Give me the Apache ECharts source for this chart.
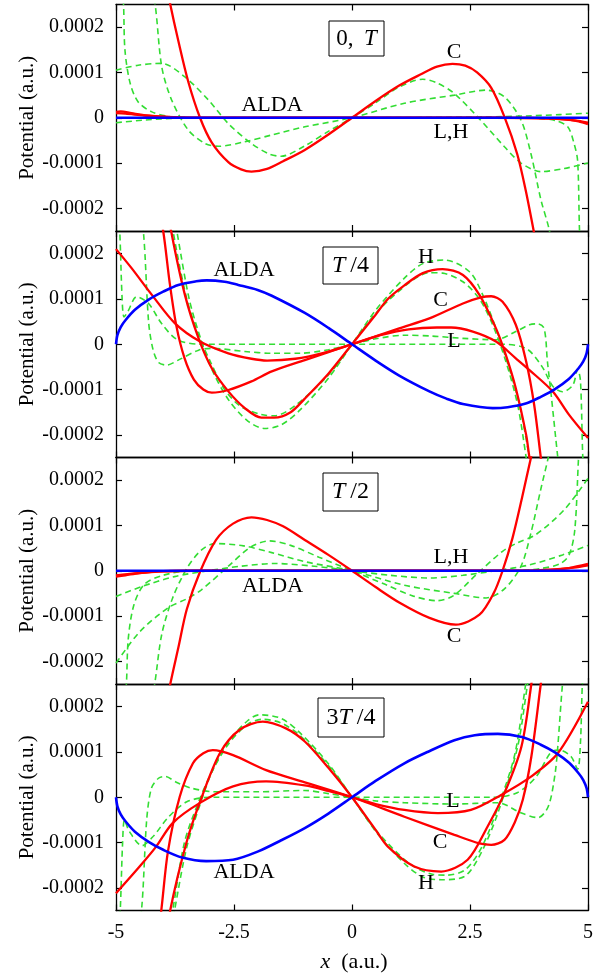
<!DOCTYPE html>
<html>
<head>
<meta charset="utf-8">
<script src="https://cdn.jsdelivr.net/npm/echarts@6/dist/echarts.min.js"></script>
<style>
html,body{margin:0;padding:0;background:#fff;}
#chart{width:610px;height:979px;}
</style>
</head>
<body>
<div id="chart"></div>
<script>
// ---- axes ----
const xTicks = [-5, -2.5, 0, 2.5, 5];
const yTicks = [-2, -1, 0, 1, 2];          // potential in units of 1e-4 a.u.
const yUnit = 1e-4;
const panelLabels = ['0,T', 'T/4', 'T/2', '3T/4'];

// ---- panel 1 : t = 0, T  (values in 1e-4 a.u.) ----
const p1_ALDA = [[-5,0],[5,0]];
const p1_C = [[-4.0,3.3],[-3.85,2.5],[-3.68,1.7],[-3.47,0.8],[-3.22,0],[-2.97,-0.55],[-2.62,-0.98],[-2.35,-1.14],[-2.13,-1.19],[-1.8,-1.13],[-1.46,-0.96],[-1.0,-0.71],[-0.5,-0.37],[0,0],[0.5,0.37],[1.0,0.71],[1.46,0.96],[1.8,1.13],[2.13,1.19],[2.4,1.15],[2.65,1.0],[2.95,0.66],[3.23,0.02],[3.5,-0.8],[3.68,-1.6],[3.85,-2.5],[4.0,-3.3]];
const p1_L = [[-5,0.13],[-4.9,0.14],[-4.67,0.1],[-4.24,0.04],[-3.6,0.005],[-3,0],[3,0],[3.8,-0.005],[4.3,-0.02],[4.6,-0.04],[4.8,-0.08],[5,-0.14]];
const p1_H = [[-5,0.1],[-4.8,0.09],[-4.4,0.05],[-3.8,0.01],[-3,0],[3,0],[3.9,-0.01],[4.4,-0.03],[4.8,-0.07],[5,-0.11]];
const p1_G1 = [[-5,1.05],[-4.53,1.16],[-4.03,1.2],[-3.54,0.9],[-3.04,0.39],[-2.62,-0.13],[-2.13,-0.57],[-1.75,-0.8],[-1.5,-0.85],[-1.0,-0.62],[-0.5,-0.3],[0,0],[0.5,0.33],[1.0,0.68],[1.5,0.85],[1.8,0.77],[2.16,0.54],[2.66,0.02],[3.23,-0.64],[3.58,-1.0],[4.0,-1.19],[4.5,-1.12],[5,-1.0]];
const p1_G2 = [[-4.35,3.5],[-4.17,2.49],[-4.03,1.12],[-3.82,0.39],[-3.47,-0.27],[-3.11,-0.57],[-2.83,-0.63],[-2.27,-0.53],[-1.7,-0.38],[-1.0,-0.2],[0,0],[1.11,0.32],[2.17,0.5],[2.84,0.61],[3.23,0.46],[3.58,-0.05],[3.79,-0.79],[4.0,-1.8],[4.18,-2.48],[4.35,-3.5]];
const p1_G3 = [[-4.9,3.5],[-4.84,2.49],[-4.81,1.49],[-4.7,0.76],[-4.53,0.35],[-4.24,0.13],[-3.82,0.02],[-3.2,0],[3.2,0],[3.9,-0.01],[4.3,-0.06],[4.57,-0.2],[4.7,-0.55],[4.78,-0.95],[4.82,-2.48],[4.87,-3.5]];
const p1_G4 = [[-5,-0.11],[-4.38,-0.05],[-3.68,-0.01],[-2.8,0],[0,0],[2.8,0.02],[3.7,0.04],[4.4,0.07],[5,0.1]];

// ---- panel 2 : t = T/4 ----
const p2_ALDA = [[-5,0],[-4.97,0.2],[-4.9,0.38],[-4.8,0.53],[-4.6,0.76],[-4.3,0.99],[-4.0,1.16],[-3.68,1.31],[-3.3,1.39],[-3.08,1.41],[-2.7,1.38],[-2.41,1.31],[-2.0,1.2],[-1.7,1.07],[-1.0,0.69],[-0.5,0.36],[0,0],[0.5,-0.36],[1.0,-0.69],[1.64,-1.04],[2.0,-1.2],[2.35,-1.32],[2.98,-1.41],[3.3,-1.39],[3.68,-1.31],[4.0,-1.16],[4.3,-0.99],[4.6,-0.76],[4.8,-0.53],[4.9,-0.38],[4.97,-0.2],[5,0]];
const p2_C = [[-4.15,3.3],[-4.0,2.5],[-3.86,1.34],[-3.72,0.4],[-3.55,-0.3],[-3.35,-0.78],[-3.15,-1.0],[-2.97,-1.07],[-2.62,-1.01],[-2.13,-0.82],[-1.7,-0.6],[-1.0,-0.35],[0,0],[1.0,0.35],[1.64,0.57],[2.35,0.9],[2.75,1.04],[2.95,1.06],[3.19,0.94],[3.47,0.43],[3.69,-0.38],[3.86,-1.34],[4.0,-2.5],[4.1,-3.3]];
const p2_L = [[-5,2.1],[-4.67,1.68],[-4.24,1.09],[-3.75,0.46],[-3.22,0.06],[-2.62,-0.2],[-2.13,-0.32],[-1.8,-0.36],[-1.2,-0.32],[-0.6,-0.19],[0,0],[0.6,0.2],[1.2,0.33],[1.8,0.37],[2.1,0.37],[2.56,0.28],[3.05,0.06],[3.47,-0.31],[3.76,-0.57],[4.25,-1.04],[4.6,-1.56],[5,-2.07]];
const p2_H = [[-3.95,3.3],[-3.83,2.49],[-3.54,1.09],[-3.25,0.13],[-2.97,-0.53],[-2.62,-1.04],[-2.27,-1.41],[-1.92,-1.62],[-1.65,-1.62],[-1.3,-1.5],[-1.0,-1.2],[-0.5,-0.65],[0,0],[0.5,0.65],[0.76,1.0],[1.11,1.3],[1.5,1.57],[1.92,1.66],[2.35,1.53],[2.7,1.09],[3.05,0.35],[3.26,-0.24],[3.47,-0.97],[3.69,-2.0],[3.76,-2.5],[3.9,-3.3]];
const p2_G1 = [[-3.85,3.3],[-3.71,2.49],[-3.45,1.0],[-3.2,0.1],[-2.95,-0.6],[-2.6,-1.25],[-2.2,-1.7],[-1.85,-1.86],[-1.5,-1.78],[-1.1,-1.45],[-0.5,-0.75],[0,0],[0.5,0.75],[1.1,1.45],[1.5,1.78],[1.96,1.86],[2.49,1.6],[2.77,1.09],[3.05,0.35],[3.33,-0.53],[3.55,-1.34],[3.76,-2.5],[3.9,-3.3]];
const p2_G2 = [[-3.9,3.3],[-3.79,2.49],[-3.5,1.0],[-3.25,0.2],[-2.98,-0.43],[-2.7,-1.0],[-2.35,-1.38],[-1.92,-1.55],[-1.64,-1.58],[-1.2,-1.35],[-0.5,-0.68],[0,0],[0.5,0.68],[1.2,1.35],[1.64,1.58],[1.92,1.57],[2.35,1.38],[2.7,1.0],[2.98,0.43],[3.26,-0.38],[3.51,-1.34],[3.69,-2.5],[3.8,-3.3]];
const p2_G3 = [[-4.55,3.3],[-4.42,2.49],[-4.31,0.5],[-4.22,-0.1],[-4.1,-0.4],[-3.93,-0.46],[-3.68,-0.35],[-3.25,-0.13],[-2.97,-0.09],[-2.27,-0.16],[-1.7,-0.2],[-1.11,-0.2],[-0.5,-0.12],[0,0],[0.5,0.12],[1.11,0.2],[1.7,0.18],[2.35,0.13],[3.05,0.1],[3.47,0.28],[3.76,0.43],[3.93,0.45],[4.07,0.35],[4.14,-0.38],[4.22,-1.12],[4.36,-2.5],[4.45,-3.3]];
const p2_G4 = [[-4.97,3.3],[-4.92,2.49],[-4.87,1.0],[-4.83,0.6],[-4.75,0.72],[-4.56,1.05],[-4.31,0.9],[-4.03,0.45],[-3.7,0.1],[-3.2,0],[3.2,0],[3.7,-0.1],[4.03,-0.5],[4.25,-0.92],[4.46,-1.05],[4.68,-0.9],[4.78,-0.55],[4.84,-0.8],[4.89,-2.5],[4.94,-3.3]];

// ---- panel 3 : t = T/2 ----
const p3_ALDA = [[-5,0],[5,0]];
const p3_C = [[-4.0,-3.3],[-3.84,-2.45],[-3.68,-1.7],[-3.5,-0.85],[-3.23,-0.05],[-2.88,0.68],[-2.52,1.04],[-2.13,1.18],[-1.8,1.12],[-1.46,0.98],[-1.0,0.68],[-0.5,0.35],[0,0],[0.5,-0.36],[1.0,-0.7],[1.64,-1.04],[2.2,-1.19],[2.7,-0.97],[3.0,-0.5],[3.19,0],[3.4,0.72],[3.6,1.6],[3.79,2.49],[3.95,3.2]];
const p3_L = [[-5,-0.13],[-4.8,-0.1],[-4.5,-0.05],[-4.0,-0.01],[-3.3,0],[3.5,0],[4.2,0.02],[4.6,0.06],[5,0.15]];
const p3_H = [[-5,-0.1],[-4.6,-0.06],[-4.1,-0.02],[-3.4,0],[3.6,0],[4.3,0.03],[4.7,0.07],[5,0.12]];
const p3_G1 = [[-5,-2.04],[-4.5,-1.35],[-3.9,-0.82],[-3.5,-0.62],[-3.19,-0.42],[-2.63,0.09],[-2.15,0.52],[-1.75,0.66],[-1.3,0.56],[-0.7,0.3],[0,0],[0.7,-0.3],[1.3,-0.56],[1.8,-0.66],[2.15,-0.55],[2.63,-0.09],[3.19,0.43],[3.51,0.62],[3.9,0.8],[4.5,1.35],[5,2.04]];
const p3_G2 = [[-4.35,-3.5],[-4.18,-2.5],[-4.03,-1.4],[-3.8,-0.6],[-3.5,0.05],[-3.2,0.45],[-2.9,0.6],[-2.3,0.55],[-1.7,0.4],[-1.0,0.2],[0,0],[1.11,-0.32],[2.17,-0.5],[2.84,-0.6],[3.23,-0.4],[3.58,0.1],[3.79,0.83],[4.0,1.8],[4.18,2.6],[4.35,3.5]];
const p3_G3 = [[-4.86,-3.5],[-4.78,-2.5],[-4.74,-1.5],[-4.62,-0.75],[-4.4,-0.3],[-4.0,-0.1],[-3.4,0],[3.4,0],[4.0,0.05],[4.4,0.15],[4.6,0.35],[4.72,0.9],[4.8,2.5],[4.86,3.5]];
const p3_G4 = [[-5,-0.57],[-4.46,-0.35],[-3.76,-0.13],[-3.05,0],[-2.35,0.1],[-1.64,0.16],[-0.8,0.1],[0,0],[0.8,-0.1],[1.64,-0.16],[2.35,-0.1],[3.05,0],[3.76,0.13],[4.46,0.35],[5,0.56]];

// ---- panel 4 : t = 3T/4 ----
const p4_ALDA = [[-5,0],[-4.97,-0.2],[-4.9,-0.38],[-4.8,-0.53],[-4.6,-0.76],[-4.3,-0.99],[-4.0,-1.16],[-3.6,-1.33],[-3.09,-1.41],[-2.52,-1.38],[-2.0,-1.2],[-1.5,-0.95],[-1.0,-0.68],[-0.5,-0.36],[0,0],[0.5,0.36],[1.11,0.75],[1.6,1.0],[2.17,1.26],[2.6,1.37],[3.09,1.4],[3.6,1.33],[4.0,1.16],[4.3,0.99],[4.6,0.76],[4.8,0.53],[4.9,0.38],[4.97,0.2],[5,0]];
const p4_C = [[-4.15,-3.3],[-4.04,-2.49],[-3.9,-1.2],[-3.65,0.01],[-3.37,0.75],[-3.15,0.97],[-2.95,1.04],[-2.52,0.93],[-1.82,0.6],[-1.0,0.33],[0,0],[1.11,-0.43],[2.17,-0.83],[2.7,-1.02],[2.95,-1.05],[3.23,-0.94],[3.45,-0.55],[3.62,-0.05],[3.8,0.9],[4.0,2.5],[4.1,3.3]];
const p4_L = [[-5,-2.12],[-4.5,-1.53],[-4.15,-1.09],[-3.8,-0.57],[-3.23,-0.13],[-2.52,0.24],[-1.82,0.35],[-1.0,0.26],[-0.5,0.14],[0,0],[0.5,-0.15],[1.11,-0.28],[1.82,-0.35],[2.52,-0.28],[3.16,0.05],[3.8,0.46],[4.36,0.97],[5,2.11]];
const p4_H = [[-3.95,-3.3],[-3.85,-2.49],[-3.51,-1.01],[-3.23,-0.13],[-2.8,0.97],[-2.38,1.49],[-1.89,1.67],[-1.4,1.52],[-1.0,1.23],[-0.5,0.65],[0,0],[0.5,-0.72],[0.76,-1.09],[1.32,-1.53],[1.89,-1.64],[2.45,-1.38],[2.87,-0.65],[3.23,0.09],[3.59,1.12],[3.8,2.5],[3.9,3.3]];
const p4_G1 = [[-3.9,-3.3],[-3.76,-2.5],[-3.5,-1.1],[-3.2,-0.1],[-2.95,0.6],[-2.6,1.25],[-2.2,1.7],[-1.96,1.82],[-1.5,1.74],[-1.1,1.42],[-0.5,0.74],[0,0],[0.5,-0.75],[1.1,-1.45],[1.5,-1.76],[1.89,-1.82],[2.38,-1.75],[2.73,-1.24],[3.09,-0.35],[3.51,1.12],[3.72,2.5],[3.85,3.3]];
const p4_G2 = [[-3.95,-3.3],[-3.8,-2.5],[-3.55,-1.0],[-3.25,-0.1],[-2.95,0.6],[-2.6,1.2],[-2.2,1.62],[-1.9,1.72],[-1.5,1.64],[-1.1,1.36],[-0.5,0.7],[0,0],[0.5,-0.72],[1.2,-1.45],[1.7,-1.7],[2.0,-1.72],[2.4,-1.6],[2.75,-1.1],[3.1,-0.2],[3.45,0.95],[3.68,2.5],[3.8,3.3]];
const p4_G3 = [[-4.6,-3.3],[-4.46,-2.5],[-4.35,-0.5],[-4.25,0.2],[-4.1,0.42],[-3.97,0.46],[-3.7,0.32],[-3.4,0.2],[-2.9,0.12],[-2.0,0.12],[-1.0,0.15],[-0.5,0.08],[0,0],[0.5,-0.08],[1.11,-0.12],[2.17,-0.15],[3.09,-0.12],[3.59,-0.35],[3.94,-0.45],[4.16,-0.2],[4.3,0.5],[4.36,1.12],[4.46,2.5],[4.55,3.3]];
const p4_G4 = [[-4.96,-3.3],[-4.91,-2.5],[-4.86,-1.0],[-4.82,-0.5],[-4.72,-0.75],[-4.45,-1.07],[-4.2,-0.85],[-3.9,-0.45],[-3.5,-0.1],[-3.0,0],[3.0,0],[3.5,0.1],[3.9,0.45],[4.22,1.0],[4.4,1.04],[4.64,0.9],[4.78,0.62],[4.84,1.2],[4.88,2.5],[4.93,3.3]];

const panels = [
  {alda: p1_ALDA, red: [p1_C, p1_L, p1_H], green: [p1_G1, p1_G2, p1_G3, p1_G4]},
  {alda: p2_ALDA, red: [p2_C, p2_L, p2_H], green: [p2_G1, p2_G2, p2_G3, p2_G4]},
  {alda: p3_ALDA, red: [p3_C, p3_L, p3_H], green: [p3_G1, p3_G2, p3_G3, p3_G4]},
  {alda: p4_ALDA, red: [p4_C, p4_L, p4_H], green: [p4_G1, p4_G2, p4_G3, p4_G4]}
];

// ---- layout ----
const FONT = '"Liberation Serif", "Times New Roman", serif';
const GL = 116, GW = 472, GH = 226.5;
const tops = [4.5, 231, 457.5, 684];
const RED = '#ff0000', BLUE = '#0000ff', GREEN = '#33dd33';

const grid = [], xAxis = [], yAxis = [], series = [];
const axisLine = {onZero: false, lineStyle: {color: '#000', width: 1.3}};
const tick = {inside: true, length: 6, lineStyle: {color: '#000', width: 1.2}};

panels.forEach((p, i) => {
  grid.push({left: GL, top: tops[i], width: GW, height: GH});
  xAxis.push({type: 'value', gridIndex: i, min: -5, max: 5, interval: 2.5, position: 'bottom',
    axisLine, axisTick: tick, splitLine: {show: false},
    axisLabel: {show: i === 3, color: '#000', fontFamily: FONT, fontSize: 20, margin: 12,
      formatter: v => String(v)}});
  xAxis.push({type: 'value', gridIndex: i, min: -5, max: 5, interval: 2.5, position: 'top',
    axisLine, axisTick: tick, splitLine: {show: false}, axisLabel: {show: false}});
  yAxis.push({type: 'value', gridIndex: i, min: -2.5, max: 2.5, position: 'left',
    axisLine, axisTick: Object.assign({customValues: yTicks}, tick), splitLine: {show: false},
    axisLabel: {customValues: yTicks, color: '#000', fontFamily: FONT, fontSize: 20, margin: 12,
      formatter: v => v === 0 ? '0' : (v * yUnit).toFixed(4)}});
  yAxis.push({type: 'value', gridIndex: i, min: -2.5, max: 2.5, position: 'right',
    axisLine, axisTick: Object.assign({customValues: yTicks}, tick), splitLine: {show: false},
    axisLabel: {show: false}});
  const base = {type: 'line', xAxisIndex: 2 * i, yAxisIndex: 2 * i, showSymbol: false,
    smooth: 0.3, clip: true, silent: true, animation: false};
  p.green.forEach(d => series.push(Object.assign({}, base, {data: d, z: 2,
    lineStyle: {color: GREEN, width: 1.6, type: [6, 4]}})));
  p.red.forEach(d => series.push(Object.assign({}, base, {data: d, z: 3,
    lineStyle: {color: RED, width: 2.3}})));
  series.push(Object.assign({}, base, {data: p.alda, z: 4, lineStyle: {color: BLUE, width: 2.6}}));
});

// ---- annotations ----
function txt(x, y, text, size, extra) {
  return Object.assign({type: 'text', x, y, z: 10,
    style: {text, font: size + 'px ' + FONT, fill: '#000', align: 'center', verticalAlign: 'middle',
      textAlign: 'center', textVerticalAlign: 'middle'}}, extra || {});
}
function rich(x, y, text, size) {
  return {type: 'text', x, y, z: 10,
    style: {text, fill: '#000', align: 'center', verticalAlign: 'middle',
      textAlign: 'center', textVerticalAlign: 'middle',
      rich: {n: {fontFamily: FONT, fontSize: size, fill: '#000'},
             i: {fontFamily: FONT, fontSize: size, fontStyle: 'italic', fill: '#000'}}}};
}
function box(x, y, w, h) {
  return {type: 'rect', z: 9, shape: {x, y, width: w, height: h},
    style: {fill: '#fff', stroke: '#000', lineWidth: 1}};
}
const TH = '\u2009';
const graphic = [];
// y-axis names
tops.forEach(t => graphic.push(txt(27.5, t + GH / 2, 'Potential (a.u.)', 21, {rotation: Math.PI / 2})));
// x-axis name
graphic.push(rich(354, 962, '{i|x}{n|  (a.u.)}', 22));
// panel boxes
graphic.push(box(329, 21, 55, 35), rich(356.5, 38.5, '{n|0,}{i| ' + TH + 'T}', 23));
graphic.push(box(323, 247, 55, 37), rich(350.5, 265.5, '{i|T}{n|' + TH + '/4}', 24));
graphic.push(box(323, 473, 55, 38), rich(350.5, 492, '{i|T}{n|' + TH + '/2}', 24));
graphic.push(box(318, 698, 66, 39), rich(351, 717.5, '{n|3}{i|T}{n|' + TH + '/4}', 24));
// curve labels
const LS = 22;
graphic.push(txt(272, 105, 'ALDA', LS), txt(454, 52.5, 'C', LS), txt(451, 132.5, 'L,H', LS));
graphic.push(txt(244, 270, 'ALDA', LS), txt(426, 257.5, 'H', LS), txt(440.5, 300.5, 'C', LS), txt(454, 341.5, 'L', LS));
graphic.push(txt(272.5, 586.5, 'ALDA', LS), txt(451, 557.5, 'L,H', LS), txt(454, 636.5, 'C', LS));
graphic.push(txt(244, 872.5, 'ALDA', LS), txt(453, 801, 'L', LS), txt(440, 842.5, 'C', LS), txt(426, 883.5, 'H', LS));

const chart = echarts.init(document.getElementById('chart'));
chart.setOption({animation: false, backgroundColor: '#fff', grid, xAxis, yAxis, series, graphic});
</script>
</body>
</html>
